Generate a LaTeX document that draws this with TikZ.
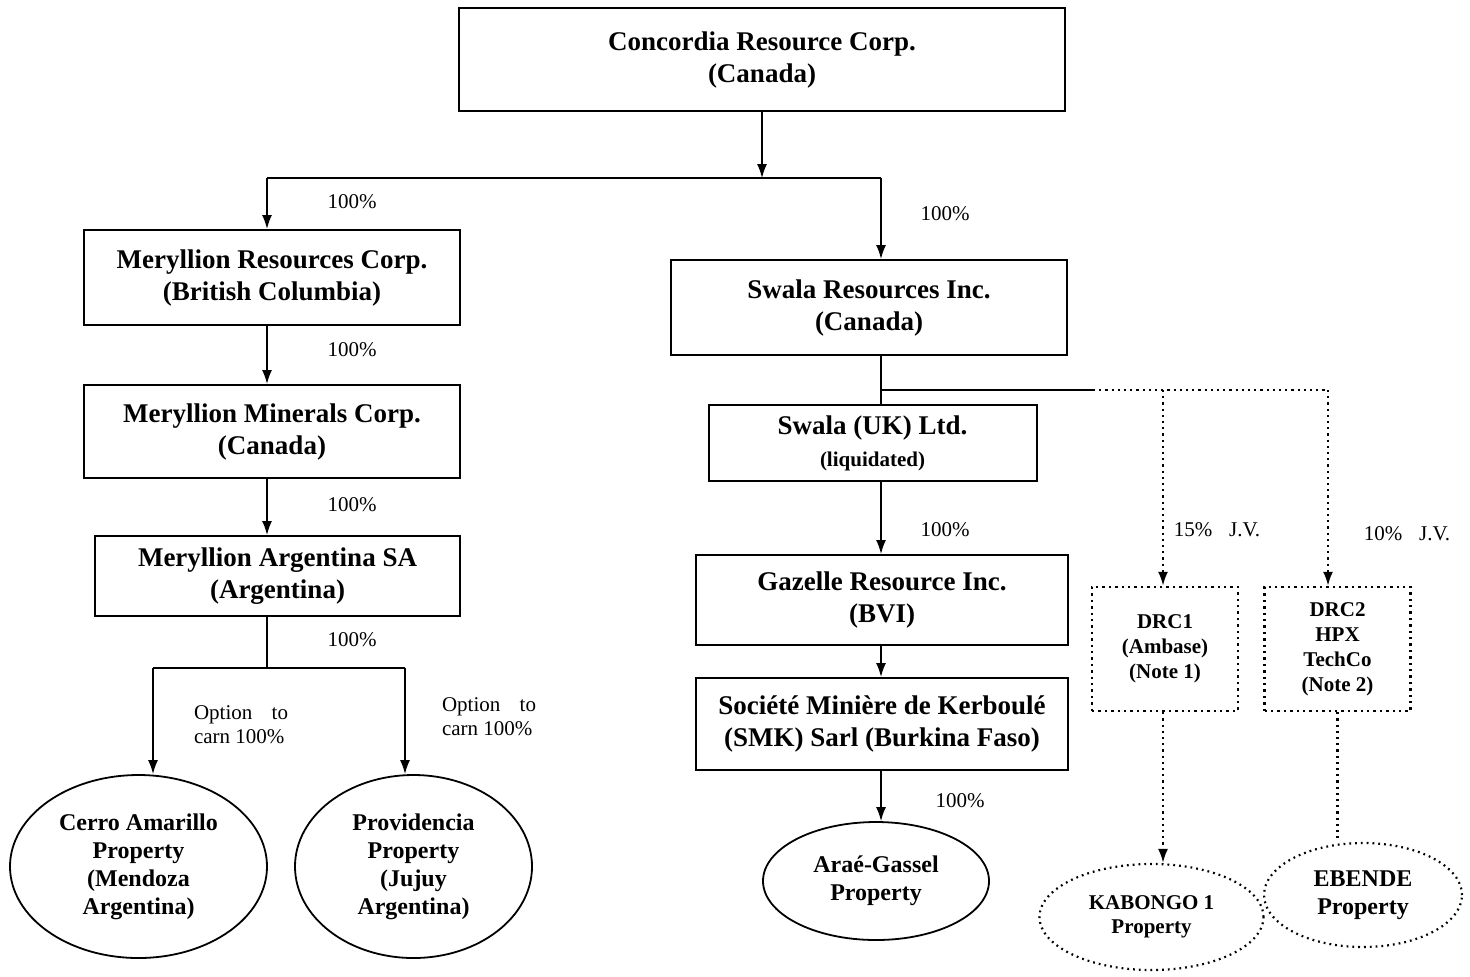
\documentclass[tikz,border=0pt]{standalone}
\usepackage{fontspec}
\setmainfont{Liberation Serif}
\usepackage{tikz}
\usetikzlibrary{positioning,shapes,arrows.meta,calc}

\begin{document}
\begin{tikzpicture}[x=0.5pt,y=-0.5pt]
	\tikzset{
		corpbox/.style={rectangle, draw=black, line width=1pt, inner sep=0pt, align=center, font=\bfseries\fontsize{13.5}{16}\selectfont},
		jvbox/.style={rectangle, draw=black, dotted, line width=1.2pt, inner sep=0pt, minimum width=73pt, minimum height=62pt, align=center, font=\bfseries\fontsize{10.5}{12.5}\selectfont},
		propnode/.style={ellipse, draw=black, line width=0.9pt, inner sep=0pt, align=center, font=\bfseries\fontsize{12}{14}\selectfont},
		myline/.style={line width=0.8pt},
		myarrow/.style={-{Latex[length=7pt,width=5pt]}, line width=0.8pt},
		dotline/.style={dotted, line width=1.1pt},
		dotarrow/.style={-{Latex[length=7pt,width=5pt]}, dotted, line width=1.1pt},
		pct/.style={inner sep=0pt, font=\fontsize{10.5}{12}\selectfont}
	}
	\useasboundingbox (0,0) rectangle (1470,976);

	% companies
	\node[corpbox, minimum width=303pt, minimum height=51.5pt] (concordia) at (762,59.5) {Concordia Resource Corp.\\(Canada)};
	\node[corpbox, minimum width=188pt, minimum height=47.5pt] (merres) at (272,277.5) {Meryllion Resources Corp.\\(British Columbia)};
	\node[corpbox, minimum width=188pt, minimum height=46.5pt] (mermin) at (272,431.5) {Meryllion Minerals Corp.\\(Canada)};
	\node[corpbox, minimum width=182.5pt, minimum height=40pt] (merarg) at (277.5,576) {Meryllion Argentina SA\\(Argentina)};
	\node[corpbox, minimum width=198pt, minimum height=47.5pt] (swalares) at (869,307.5) {Swala Resources Inc.\\(Canada)};
	\node[corpbox, minimum width=164pt, minimum height=38pt] (swalauk) at (872.5,443) {Swala (UK) Ltd.\\{\fontsize{10.5}{13}\selectfont(liquidated)}};
	\node[corpbox, minimum width=186pt, minimum height=45pt] (gazelle) at (882,600) {Gazelle Resource Inc.\\(BVI)};
	\node[corpbox, minimum width=186pt, minimum height=46pt] (smk) at (882,724) {Société Minière de Kerboulé\\(SMK) Sarl (Burkina Faso)};
	\node[jvbox] (drc1) at (1165,649) {DRC1\\(Ambase)\\(Note 1)};
	\node[jvbox] (drc2) at (1337.5,649) {DRC2\\HPX\\TechCo\\(Note 2)};

	% properties
	\node[propnode, minimum width=128.5pt, minimum height=91.5pt] (cerro) at (138.5,866.5) {Cerro Amarillo\\Property\\(Mendoza\\Argentina)};
	\node[propnode, minimum width=118.5pt, minimum height=91.5pt] (provid) at (413.5,866.5) {Providencia\\Property\\(Jujuy\\Argentina)};
	\node[propnode, minimum width=113pt, minimum height=59pt] (arae) at (876,881) {Araé-Gassel\\Property};
	\node[propnode, dotted, line width=1.1pt, minimum width=112pt, minimum height=53pt, font=\bfseries\fontsize{10.5}{12}\selectfont] (kabongo) at (1151.5,917) {KABONGO 1\\Property};
	\node[propnode, dotted, line width=1.1pt, minimum width=99pt, minimum height=52pt] (ebende) at (1363,895) {EBENDE\\Property};

	% junctions
	\coordinate (topJ) at (762,178);
	\coordinate (topL) at (267,178);
	\coordinate (topR) at (881,178);
	\coordinate (argJ) at (267,668);
	\coordinate (argL) at (153,668);
	\coordinate (argR) at (405,668);
	\coordinate (swJ) at (881,390);
	\coordinate (swS) at (1093,390);
	\coordinate (swA) at (1163,390);
	\coordinate (swE) at (1328,390);

	% connectors
	\draw[myarrow] (concordia.south -| topJ) -- (topJ);
	\draw[myline] (topL) -- (topR);
	\draw[myarrow] (topL) -- (topL |- merres.north);
	\draw[myarrow] (topR) -- (topR |- swalares.north);
	\draw[myarrow] (merres.south -| topL) -- (mermin.north -| topL);
	\draw[myarrow] (mermin.south -| topL) -- (merarg.north -| topL);
	\draw[myline] (merarg.south -| argJ) -- (argJ);
	\draw[myline] (argL) -- (argR);
	\draw[myarrow] (argL) -- (cerro.north -| argL);
	\draw[myarrow] (argR) -- (provid.north -| argR);
	\draw[myline] (swalares.south -| swJ) -- (swalauk.north -| swJ);
	\draw[myline] (swJ) -- (swS);
	\draw[dotline] (swS) -- (swE);
	\draw[dotarrow] (swA) -- (drc1.north -| swA);
	\draw[dotarrow] (swE) -- (drc2.north -| swE);
	\draw[myarrow] (swalauk.south -| swJ) -- (gazelle.north -| swJ);
	\draw[myarrow] (gazelle.south -| swJ) -- (smk.north -| swJ);
	\draw[myarrow] (smk.south -| swJ) -- (arae.north -| swJ);
	\draw[dotarrow] (drc1.south -| swA) -- (kabongo.north -| swA);
	\draw[dotline] (drc2.south) -- (drc2.south |- ebende.north);

	% labels
	\node[pct] (l1) at (352,202) {100\%};
	\node[pct] (l2) at (945,214) {100\%};
	\node[pct] (l3) at (352,350) {100\%};
	\node[pct] (l4) at (352,505) {100\%};
	\node[pct] (l5) at (352,640) {100\%};
	\node[pct] (l6) at (945,530) {100\%};
	\node[pct] (l7) at (960,801) {100\%};
	\node[pct] (l8) at (1217,530) {15\%\hspace{0.8em}J.V.};
	\node[pct] (l9) at (1407,534) {10\%\hspace{0.8em}J.V.};
	\node[pct, align=left] (l10) at (241,725) {\makebox[47pt][s]{Option\hfill to}\\carn 100\%};
	\node[pct, align=left] (l11) at (489,717) {\makebox[47pt][s]{Option\hfill to}\\carn 100\%};
\end{tikzpicture}
\end{document}
